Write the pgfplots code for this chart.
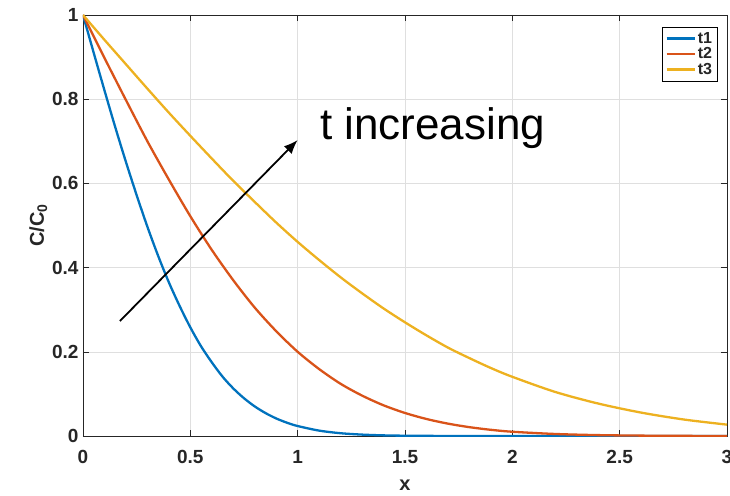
\documentclass[border=0pt]{standalone}
\usepackage{pgfplots}
\pgfplotsset{compat=1.18}
\usetikzlibrary{arrows.meta}
\usepackage{fontspec}
\setmainfont{Liberation Sans}
\definecolor{mb}{rgb}{0,0.447,0.741}
\definecolor{mr}{rgb}{0.850,0.325,0.098}
\definecolor{my}{rgb}{0.929,0.694,0.125}
\definecolor{ax}{rgb}{0.15,0.15,0.15}
\begin{document}
\begin{tikzpicture}
\begin{axis}[
  name=ax,
  scale only axis,
  width=644pt, height=421pt,
  xmin=0, xmax=3, ymin=0, ymax=1,
  xtick={0,0.5,...,3}, ytick={0,0.2,...,1},
  xticklabels={0,0.5,1,1.5,2,2.5,3},
  yticklabels={0,0.2,0.4,0.6,0.8,1},
  tick label style={font=\fontsize{19}{21}\selectfont\bfseries, text=ax},
  xticklabel style={yshift=-11pt},
  yticklabel style={xshift=-1pt},
  tick align=inside,
  major tick length=6pt,
  tick style={ax, line width=0.6pt},
  grid=major,
  grid style={gray!25, line width=0.6pt},
  axis line style={ax, line width=0.8pt},
  xlabel={\bfseries x},
  ylabel={\bfseries C/C$_{\mathbf 0}$},
  label style={font=\fontsize{20}{22}\selectfont, text=ax},
  xlabel style={yshift=-9pt},
  ylabel style={yshift=-2pt},
  legend style={at={(0.985,0.972)}, anchor=north east,
    draw=black, line width=0.6pt, inner sep=3pt, row sep=-1pt,
    nodes={font=\fontsize{16}{17}\selectfont\bfseries, text=ax}},
  legend cell align=left,
  legend image code/.code={\draw[#1, line width=2.5pt] (0pt,0pt) -- (28pt,0pt);},
]
\addplot[mb, line width=2.3pt, smooth] coordinates {
(0,1) (0.05,0.910) (0.1,0.821) (0.15,0.734) (0.2,0.651) (0.25,0.572) (0.3,0.497)
(0.35,0.428) (0.4,0.365) (0.45,0.309) (0.5,0.258) (0.55,0.213) (0.6,0.175)
(0.65,0.141) (0.7,0.113) (0.75,0.0897) (0.8,0.0703) (0.85,0.0545) (0.9,0.0417)
(0.95,0.0316) (1.0,0.0237) (1.1,0.0128) (1.2,0.0066) (1.3,0.0033) (1.4,0.0015)
(1.5,0.0007) (1.7,0.0001) (2.0,0) (2.5,0) (3.0,0)};
\addlegendentry{t1}
\addplot[mr, line width=2.3pt, smooth] coordinates {
(0,1) (0.1,0.898) (0.2,0.798) (0.3,0.700) (0.4,0.609) (0.5,0.522) (0.6,0.442)
(0.7,0.370) (0.8,0.305) (0.9,0.249) (1.0,0.200) (1.1,0.159) (1.2,0.124)
(1.3,0.0960) (1.4,0.0729) (1.5,0.0547) (1.6,0.0404) (1.7,0.0294) (1.8,0.0210)
(1.9,0.0147) (2.0,0.0101) (2.2,0.0048) (2.4,0.0021) (2.6,0.0009) (2.8,0.0003) (3.0,0.0001)};
\addlegendentry{t2}
\addplot[my, line width=2.3pt, smooth] coordinates {
(0,1) (0.1,0.941) (0.2,0.883) (0.3,0.825) (0.4,0.768) (0.5,0.713) (0.6,0.659)
(0.7,0.606) (0.8,0.556) (0.9,0.507) (1.0,0.461) (1.1,0.418) (1.2,0.377)
(1.3,0.339) (1.4,0.303) (1.5,0.270) (1.6,0.239) (1.7,0.210) (1.8,0.185)
(1.9,0.1615) (2.0,0.1406) (2.2,0.1046) (2.4,0.0771) (2.6,0.0556) (2.8,0.0391) (3.0,0.0270)};
\addlegendentry{t3}
\draw[-{Latex[length=14pt,width=11pt]}, line width=1.8pt, black] (axis cs:0.172,0.273) -- (axis cs:1.0,0.703);
\node[anchor=base west, font=\fontsize{44}{48}\selectfont, inner sep=0pt] at (axis cs:1.104,0.705) {t increasing};
\end{axis}
\pgfresetboundingbox
\path (ax.south west) ++(-83pt,-59pt) rectangle ++(730pt,495pt);
\end{tikzpicture}
\end{document}
